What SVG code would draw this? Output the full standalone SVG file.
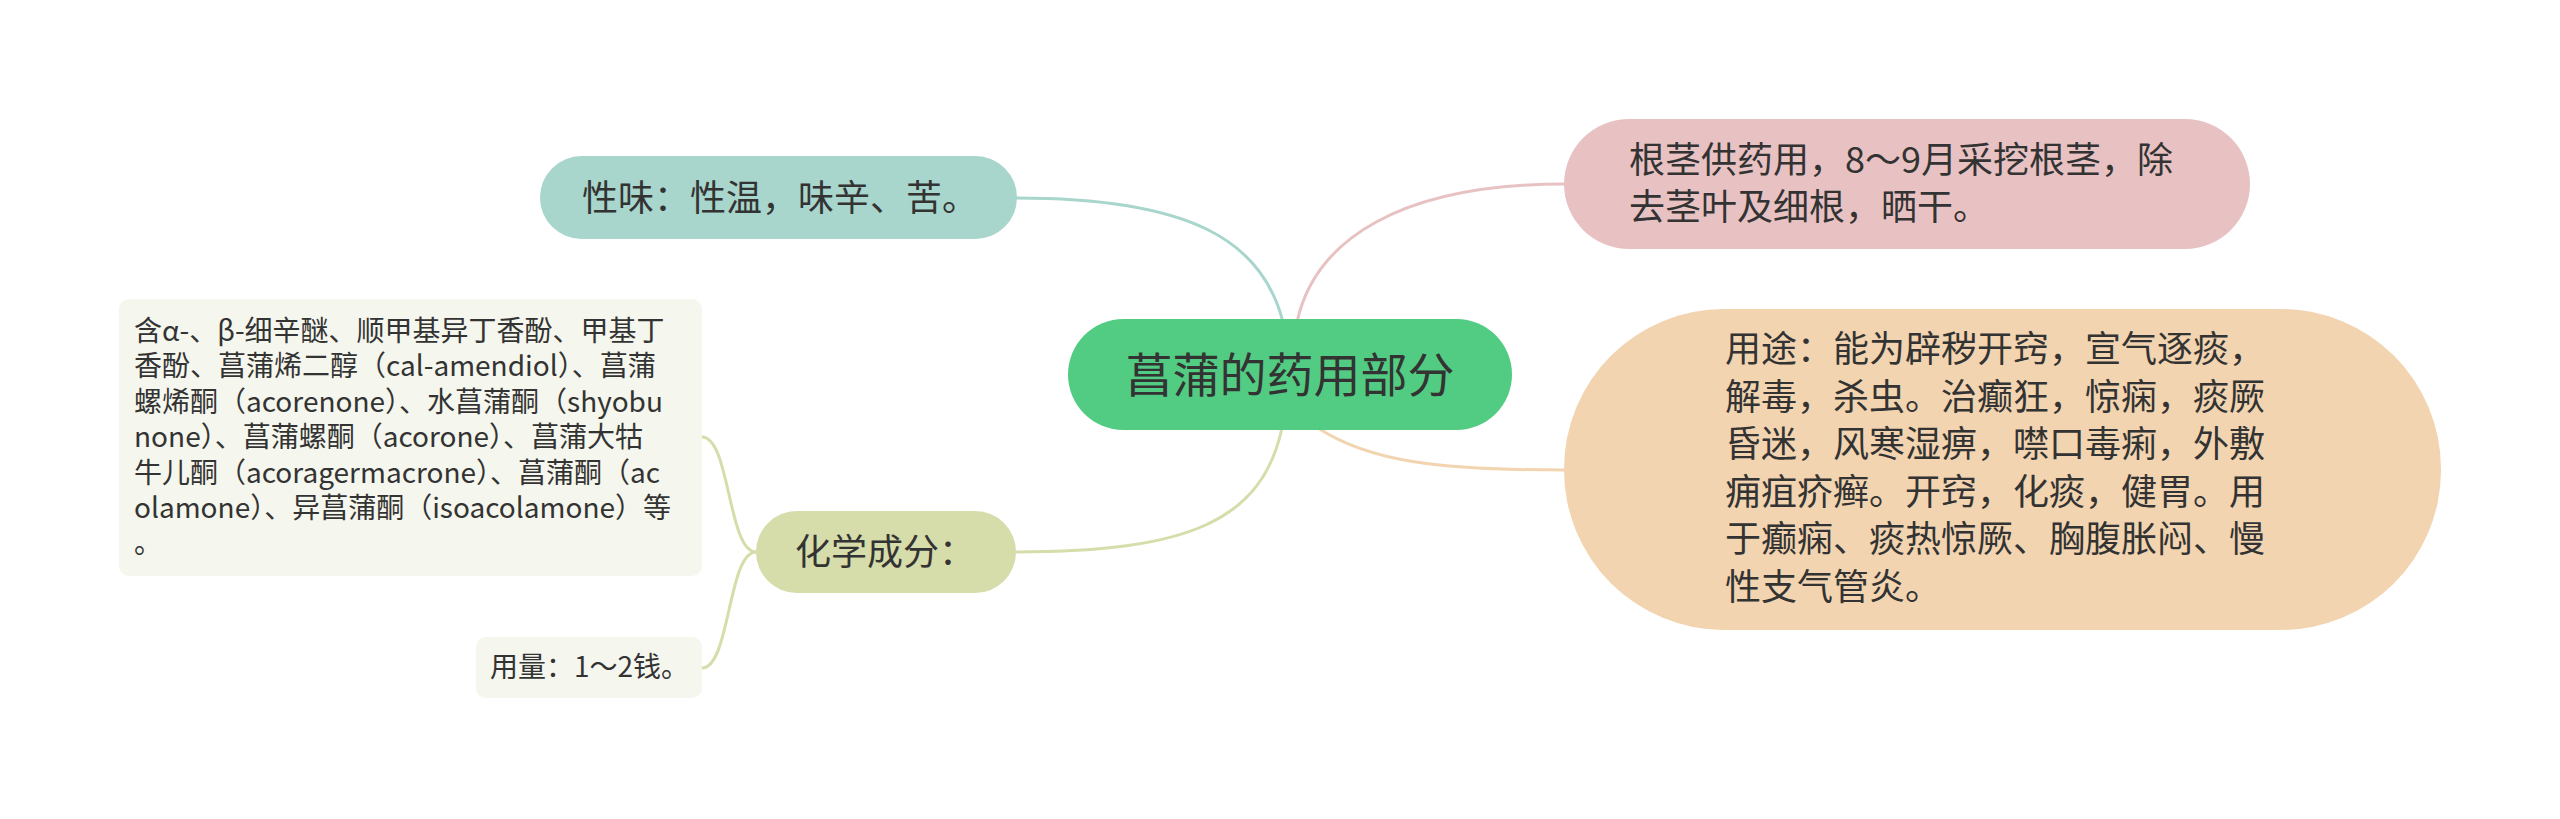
<svg xmlns="http://www.w3.org/2000/svg" width="2560" height="819" viewBox="0 0 2560 819">
<style>
text { font-family: "Noto Sans CJK SC", "Microsoft YaHei", sans-serif; fill: #333333; }
.t36 { font-size: 36px; }
.t28 { font-size: 28px; }
.c { fill: none; stroke-width: 3; stroke-linecap: round; }
</style>
<rect width="2560" height="819" fill="#ffffff"/>
<g id="connectors">
  <path class="c" stroke="#a8d5cc" d="M1283,322 C1262,240 1190,198 1016,198"/>
  <path class="c" stroke="#e8c2c2" d="M1297,322 C1315,240 1400,184 1564,184"/>
  <path class="c" stroke="#f2d4b0" d="M1318,428 C1370,462 1440,470 1565,470"/>
  <path class="c" stroke="#d6dcaa" d="M1282,428 C1262,520 1190,552 1016,552"/>
  <path class="c" stroke="#d6dcaa" d="M756,552 C728,552 730,437 702,437"/>
  <path class="c" stroke="#d6dcaa" d="M756,552 C728,552 730,668 702,668"/>
</g>
<g id="central">
  <rect x="1068" y="319" width="444" height="111" rx="55.5" fill="#52cc82"/>
  <text x="1290" y="392" text-anchor="middle" font-size="47">菖蒲的药用部分</text>
</g>
<g id="xingwei">
  <rect x="540" y="156" width="477" height="83" rx="41.5" fill="#a8d5cc"/>
  <text class="t36" x="582" y="211">性味：性温，味辛、苦。</text>
</g>
<g id="genjing">
  <rect x="1564" y="119" width="686" height="130" rx="65" fill="#e8c2c2"/>
  <text class="t36" x="1629" y="173">根茎供药用，8～9月采挖根茎，除</text>
  <text class="t36" x="1629" y="220">去茎叶及细根，晒干。</text>
</g>
<g id="yongtu">
  <rect x="1564" y="309" width="877" height="321" rx="160" fill="#f2d4b0"/>
  <text class="t36" x="1725" y="362">用途：能为辟秽开窍，宣气逐痰，</text>
  <text class="t36" x="1725" y="409.6">解毒，杀虫。治癫狂，惊痫，痰厥</text>
  <text class="t36" x="1725" y="457.2">昏迷，风寒湿痹，噤口毒痢，外敷</text>
  <text class="t36" x="1725" y="504.8">痈疽疥癣。开窍，化痰，健胃。用</text>
  <text class="t36" x="1725" y="552.4">于癫痫、痰热惊厥、胸腹胀闷、慢</text>
  <text class="t36" x="1725" y="600">性支气管炎。</text>
</g>
<g id="huaxue">
  <rect x="756" y="511" width="260" height="82" rx="41" fill="#d6dcaa"/>
  <text class="t36" x="795" y="565">化学成分：</text>
</g>
<g id="chengfen">
  <rect x="119" y="299" width="583" height="277" rx="10" fill="#f5f6ed"/>
  <text class="t28" x="134" y="341">含α-、β-细辛醚、顺甲基异丁香酚、甲基丁</text>
  <text class="t28" x="134" y="376.4">香酚、菖蒲烯二醇（cal-amendiol）、菖蒲</text>
  <text class="t28" x="134" y="411.8">螺烯酮（acorenone）、水菖蒲酮（shyobu</text>
  <text class="t28" x="134" y="447.2">none）、菖蒲螺酮（acorone）、菖蒲大牯</text>
  <text class="t28" x="134" y="482.6">牛儿酮（acoragermacrone）、菖蒲酮（ac</text>
  <text class="t28" x="134" y="518">olamone）、异菖蒲酮（isoacolamone）等</text>
  <text class="t28" x="134" y="553.4">。</text>
</g>
<g id="yongliang">
  <rect x="476" y="637" width="226" height="61" rx="10" fill="#f5f6ed"/>
  <text class="t28" x="490" y="677">用量：1～2钱。</text>
</g>
</svg>
